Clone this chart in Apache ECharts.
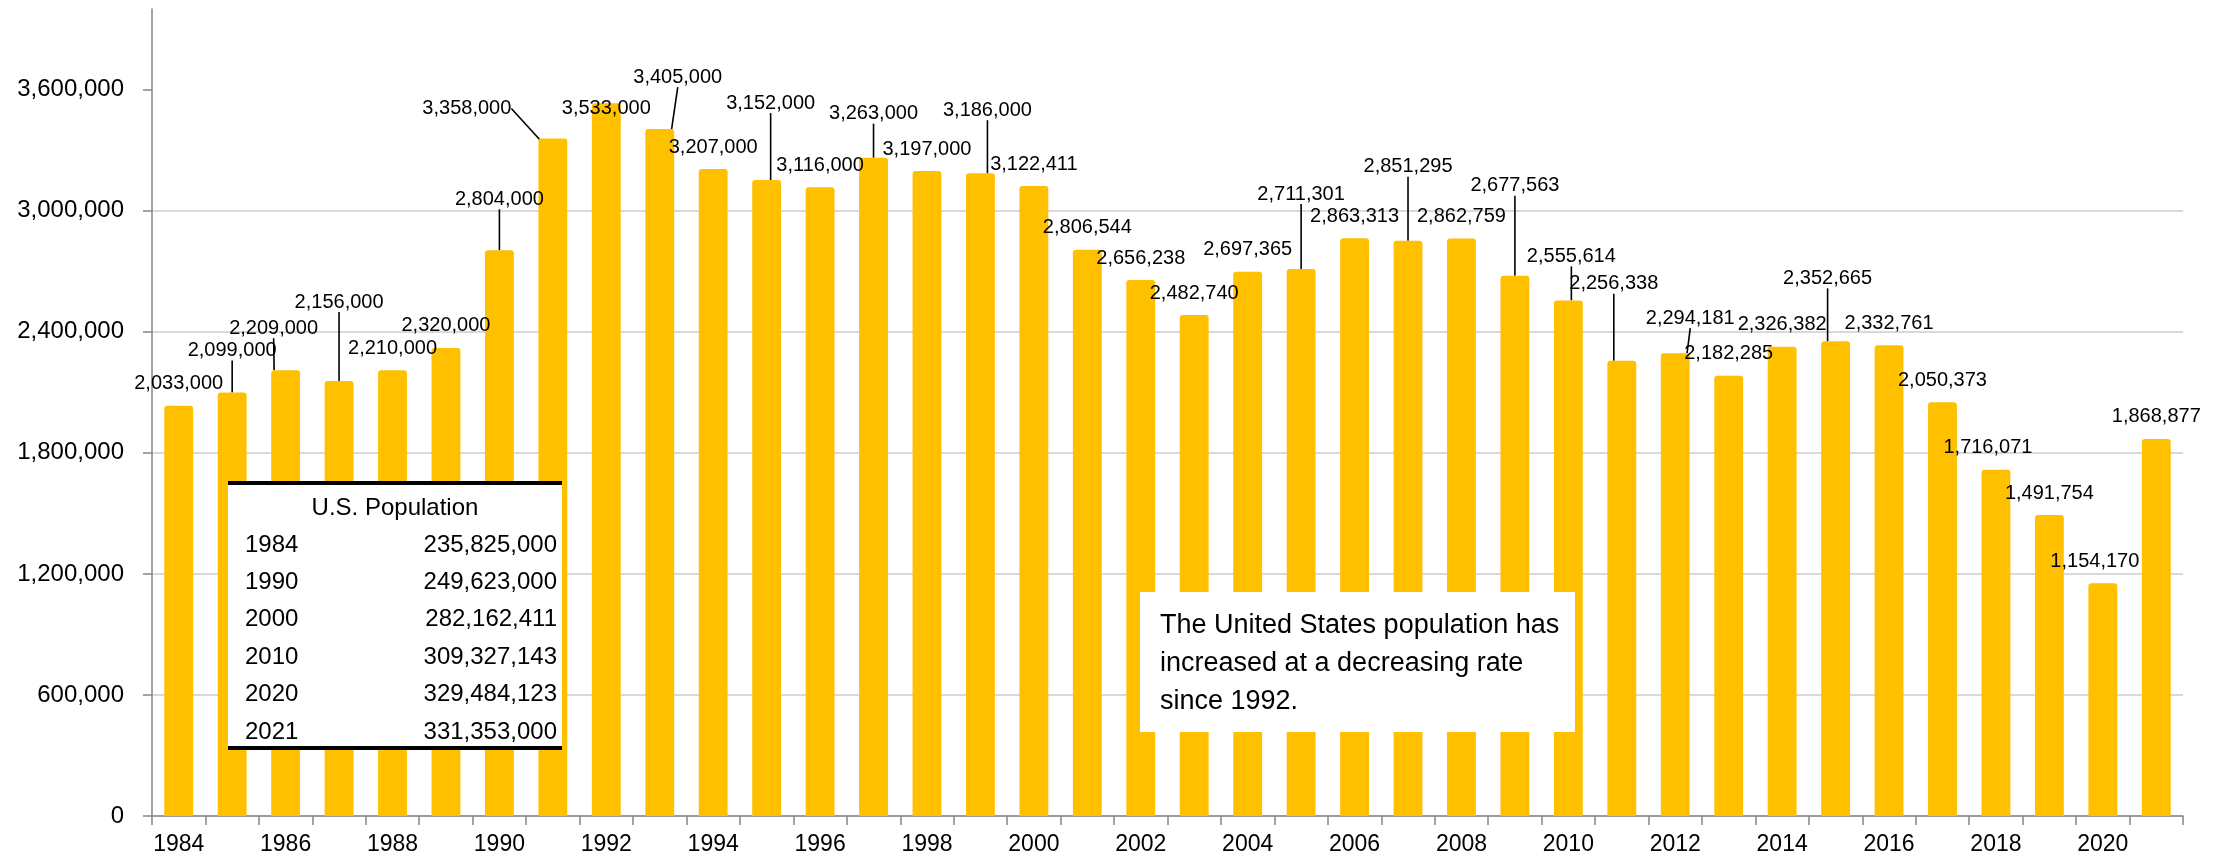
<!DOCTYPE html>
<html>
<head>
<meta charset="utf-8">
<script src="https://cdn.jsdelivr.net/npm/echarts@6/dist/echarts.min.js"></script>
<style>
html,body{margin:0;padding:0;background:#fff;}
#chart{width:2221px;height:864px;}
</style>
</head>
<body>
<div id="chart"></div>
<script>
const years = ['1984','1985','1986','1987','1988','1989','1990','1991','1992','1993','1994','1995','1996','1997','1998','1999','2000','2001','2002','2003','2004','2005','2006','2007','2008','2009','2010','2011','2012','2013','2014','2015','2016','2017','2018','2019','2020','2021'];
const births = [2033000,2099000,2209000,2156000,2210000,2320000,2804000,3358000,3533000,3405000,3207000,3152000,3116000,3263000,3197000,3186000,3122411,2806544,2656238,2482740,2697365,2711301,2863313,2851295,2862759,2677563,2555614,2256338,2294181,2182285,2326382,2352665,2332761,2050373,1716071,1491754,1154170,1868877];
const yTicks = [0,600000,1200000,1800000,2400000,3000000,3600000];
const popYears = ['1984','1990','2000','2010','2020','2021'];
const popValues = [235825000,249623000,282162411,309327143,329484123,331353000];
const noteText = 'The United States population has\nincreased at a decreasing rate\nsince 1992.';

// label offsets (dx, dy) and leader-line flags, layout only
const labelOffsets = {
  1:[0,-20,1], 2:[-12,-20,1], 3:[0,-57,1], 6:[0,-29,1], 7:[-86,-8,1], 8:[0,27,0],
  9:[18,-30,1], 11:[4,-55,1], 13:[0,-22,1], 15:[7,-41,1], 21:[0,-53,1], 23:[0,-52,1],
  25:[0,-68,1], 26:[3,-22,1], 27:[-8,-55,1], 28:[15,-13,1], 31:[-8,-41,1], 34:[-8,0,0], 36:[-8,0,0]
};

const FONT = '"Liberation Sans Narrow","Arial Narrow","Liberation Sans",Arial,sans-serif';
const fmt = v => Number(v).toLocaleString('en-US');

const chart = echarts.init(document.getElementById('chart'), null, {renderer:'canvas'});

const barData = births.map((v,i) => {
  const o = labelOffsets[i];
  const item = {value: v};
  if (o && o[2]) item.labelLine = {show:true, lineStyle:{color:'#000', width:1.6}};
  return item;
});

const graphics = [];
// population table
const tX = 228, tW = 334, tTop = 483, tBot = 748;
graphics.push({type:'rect', shape:{x:tX, y:tTop, width:tW, height:tBot-tTop}, style:{fill:'#fff'}, z:100});
graphics.push({type:'rect', shape:{x:tX, y:tTop-2, width:tW, height:4}, style:{fill:'#000'}, z:101});
graphics.push({type:'rect', shape:{x:tX, y:tBot-2, width:tW, height:4}, style:{fill:'#000'}, z:101});
graphics.push({type:'text', x:395, y:508, style:{text:'U.S. Population', font:'24px '+FONT, fill:'#000', align:'center', verticalAlign:'middle'}, z:102});
popYears.forEach((y,i) => {
  const cy = 545 + i*37.4;
  graphics.push({type:'text', x:245, y:cy, style:{text:y, font:'24px '+FONT, fill:'#000', align:'left', verticalAlign:'middle'}, z:102});
  graphics.push({type:'text', x:557, y:cy, style:{text:fmt(popValues[i]), font:'24px '+FONT, fill:'#000', align:'right', verticalAlign:'middle'}, z:102});
});
// note box
graphics.push({type:'rect', shape:{x:1140, y:592, width:435, height:140}, style:{fill:'#fff'}, z:100});
graphics.push({type:'text', x:1160, y:607, style:{text:noteText, font:'27px '+FONT, fill:'#000', align:'left', verticalAlign:'top', lineHeight:38}, z:102});

chart.setOption({
  animation:false,
  backgroundColor:'#fff',
  grid:{left:152, right:38, top:9, bottom:48, containLabel:false},
  xAxis:{
    type:'category', data:years, boundaryGap:true,
    axisLine:{show:true, lineStyle:{color:'#868686', width:1.5}},
    axisTick:{show:true, interval:0, length:9, alignWithLabel:false, lineStyle:{color:'#868686', width:1.5}},
    axisLabel:{interval:1, fontSize:23, fontFamily:FONT, color:'#000', margin:17}
  },
  yAxis:{
    type:'value', min:0, max:4000000, interval:600000,
    axisLine:{show:true, lineStyle:{color:'#868686', width:1.5}},
    axisTick:{show:true, length:9, customValues:yTicks, lineStyle:{color:'#868686', width:1.5}},
    axisLabel:{customValues:yTicks, fontSize:24, fontFamily:FONT, color:'#000', margin:28, formatter:v => fmt(v)},
    splitLine:{show:true, showMaxLine:false, lineStyle:{color:'#d9d9d9', width:2}}
  },
  series:[{
    type:'bar', data:barData, barCategoryGap:'46%',
    itemStyle:{color:'#FFC000', borderRadius:[3,3,0,0]},
    label:{show:true, position:'top', distance:12, fontSize:20, fontFamily:FONT, color:'#000', formatter:p => fmt(p.value)},
    labelLine:{show:false, lineStyle:{color:'#000', width:1.6}},
    labelLayout: function(params){
      const o = labelOffsets[params.dataIndex];
      if (!o) return {};
      return {dx:o[0], dy:o[1]};
    }
  }],
  graphic:graphics
});
</script>
</body>
</html>
